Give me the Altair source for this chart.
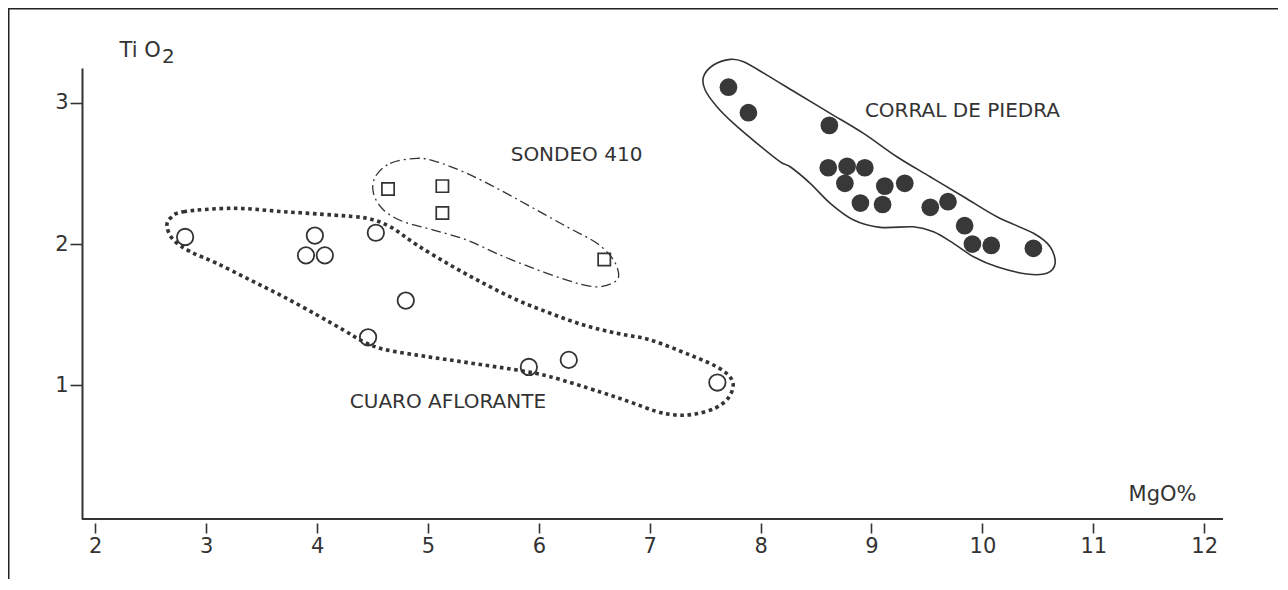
import altair as alt
import pandas as pd

FONT = "DejaVu Sans"
INK = "#333333"

# ---- axes ----
X_DOMAIN = [1.88, 12.17]
Y_DOMAIN = [0.054, 3.246]
X_TICKS = list(range(2, 13))
Y_TICKS = [1, 2, 3]

# ---- sample points (MgO %, TiO2) ----
cuaro_mgo = [2.81, 3.98, 3.90, 4.07, 4.53, 4.80, 4.46, 5.91, 6.27, 7.61]
cuaro_tio2 = [2.05, 2.06, 1.92, 1.92, 2.08, 1.60, 1.34, 1.13, 1.18, 1.02]

sondeo_mgo = [4.64, 5.13, 5.13, 6.59]
sondeo_tio2 = [2.39, 2.41, 2.22, 1.89]

corral_mgo = [7.71, 7.89, 8.62, 8.61, 8.78, 8.94, 8.76, 9.12, 9.30, 8.90,
              9.10, 9.53, 9.69, 9.84, 9.91, 10.08, 10.46]
corral_tio2 = [3.11, 2.93, 2.84, 2.54, 2.55, 2.54, 2.43, 2.41, 2.43, 2.29,
               2.28, 2.26, 2.30, 2.13, 2.00, 1.99, 1.97]

# ---- group outlines (closed curves) ----
corral_out_mgo = [7.575, 7.726, 7.846, 8.057, 8.327, 8.628, 8.928, 9.229, 9.529, 9.83,
                  10.131, 10.461, 10.611, 10.656, 10.582, 10.401, 10.131, 9.92, 9.739,
                  9.559, 9.379, 9.078, 8.838, 8.628, 8.447, 8.267, 8.177, 7.967, 7.756,
                  7.606, 7.5, 7.485]
corral_out_tio2 = [3.267, 3.307, 3.29, 3.196, 3.067, 2.925, 2.783, 2.618, 2.476, 2.335,
                   2.193, 2.076, 1.981, 1.863, 1.793, 1.788, 1.839, 1.91, 2.005,
                   2.087, 2.122, 2.118, 2.17, 2.288, 2.43, 2.547, 2.582, 2.713, 2.854,
                   2.972, 3.09, 3.184]

sondeo_out_mgo = [4.525, 4.66, 4.901, 5.081, 5.352, 5.652, 5.952, 6.253, 6.524, 6.674,
                  6.719, 6.644, 6.493, 6.253, 5.952, 5.652, 5.352, 5.051, 4.78, 4.6, 4.509]
sondeo_out_tio2 = [2.476, 2.571, 2.607, 2.582, 2.5, 2.382, 2.253, 2.122, 2.005, 1.887,
                   1.769, 1.717, 1.698, 1.745, 1.828, 1.922, 2.028, 2.099, 2.158, 2.241, 2.359]

cuaro_out_mgo = [2.676, 2.796, 3.247, 3.698, 4.149, 4.45, 4.66, 4.901, 5.201, 5.501,
                 5.803, 6.103, 6.403, 6.704, 7.005, 7.365, 7.591, 7.708, 7.753, 7.708,
                 7.591, 7.41, 7.23, 7.05, 6.824, 6.554, 6.103, 5.803, 5.501, 5.201,
                 4.901, 4.6, 4.419, 4.239, 3.999, 3.698, 3.398, 3.097, 2.857, 2.706, 2.647]
cuaro_out_tio2 = [2.182, 2.229, 2.253, 2.229, 2.205, 2.182, 2.122, 1.993, 1.851, 1.722,
                  1.604, 1.51, 1.427, 1.368, 1.321, 1.214, 1.137, 1.073, 1.002, 0.91,
                  0.839, 0.797, 0.79, 0.818, 0.882, 0.953, 1.061, 1.108, 1.144, 1.179,
                  1.214, 1.255, 1.309, 1.391, 1.498, 1.627, 1.745, 1.863, 1.946, 2.028, 2.122]

# ---- group labels ----
label_text = ["CORRAL DE PIEDRA", "SONDEO 410", "CUARO AFLORANTE"]
label_mgo = [9.82, 6.34, 5.18]
label_tio2 = [2.94, 2.63, 0.884]

W, H = 1141, 451
PAD = {"left": 74, "top": 60, "right": 55, "bottom": 60}

xs = alt.Scale(domain=X_DOMAIN, nice=False, zero=False)
ys = alt.Scale(domain=Y_DOMAIN, nice=False, zero=False)

x_axis = alt.Axis(values=X_TICKS, domain=False, offset=4, tickSize=10, tickWidth=1.6,
                  tickColor=INK, labelFont=FONT, labelFontSize=21, labelColor=INK,
                  labelPadding=2, grid=False, title="MgO%", titleFont=FONT,
                  titleFontSize=21, titleFontWeight="normal", titleColor=INK,
                  titleX=1080, titleY=-23, titleAlign="center", titleBaseline="alphabetic")
y_axis = alt.Axis(values=Y_TICKS, domain=True, domainColor=INK, domainWidth=2,
                  tickSize=12, tickWidth=1.6, tickColor=INK, labelFont=FONT,
                  labelFontSize=21, labelColor=INK, labelPadding=2, grid=False,
                  title="Ti O", titleFont=FONT, titleFontSize=21, titleFontWeight="normal",
                  titleColor=INK, titleAngle=0, titleX=37, titleY=-12, titleAlign="left",
                  titleBaseline="alphabetic")

X = alt.X("mgo:Q", scale=xs, axis=x_axis)
Y = alt.Y("tio2:Q", scale=ys, axis=y_axis)


def pts(mgo, tio2):
    return pd.DataFrame({"mgo": mgo, "tio2": tio2})


def outline(mgo, tio2):
    return pd.DataFrame({"mgo": mgo, "tio2": tio2, "i": list(range(len(mgo)))})


corral_pts = alt.Chart(pts(corral_mgo, corral_tio2)).mark_point(
    shape="circle", filled=True, size=314, color="#383838", opacity=1
).encode(x=X, y=Y)

cuaro_pts = alt.Chart(pts(cuaro_mgo, cuaro_tio2)).mark_point(
    shape="circle", filled=False, size=270, stroke=INK, strokeWidth=1.8, opacity=1
).encode(x=X, y=Y)

sondeo_pts = alt.Chart(pts(sondeo_mgo, sondeo_tio2)).mark_point(
    shape="square", filled=False, size=150, stroke=INK, strokeWidth=1.7, opacity=1
).encode(x=X, y=Y)


def outline_layer(mgo, tio2, **style):
    return alt.Chart(outline(mgo, tio2)).mark_line(
        interpolate="cardinal-closed", color=INK, **style
    ).encode(x=X, y=Y, order=alt.Order("i:Q"))


corral_line = outline_layer(corral_out_mgo, corral_out_tio2, strokeWidth=1.6)
sondeo_line = outline_layer(sondeo_out_mgo, sondeo_out_tio2, strokeWidth=1.3,
                            strokeDash=[10, 4, 2, 4])
cuaro_line = outline_layer(cuaro_out_mgo, cuaro_out_tio2, strokeWidth=3.6,
                           strokeDash=[3.6, 3.6], strokeCap="butt")

labels = alt.Chart(pd.DataFrame({"t": label_text, "mgo": label_mgo, "tio2": label_tio2})).mark_text(
    font=FONT, fontSize=20, color=INK, align="center", baseline="middle"
).encode(x=X, y=Y, text="t:N")

subscript = alt.Chart(pd.DataFrame({"t": ["2"]})).mark_text(
    font=FONT, fontSize=20, color=INK, align="left", baseline="alphabetic"
).encode(x=alt.value(80), y=alt.value(-5), text="t:N")

x_domain_line = alt.Chart(pd.DataFrame({"a": [0]})).mark_rule(color=INK, strokeWidth=2).encode(
    x=alt.value(0), x2=alt.value(W), y=alt.value(H))

frame_top = alt.Chart(pd.DataFrame({"a": [0]})).mark_rule(color="#222222", strokeWidth=1.5).encode(
    x=alt.value(-PAD["left"]), x2=alt.value(W + PAD["right"]), y=alt.value(-PAD["top"] + 0.75))
frame_left = alt.Chart(pd.DataFrame({"a": [0]})).mark_rule(color="#222222", strokeWidth=1.5).encode(
    x=alt.value(-PAD["left"] + 0.75), y=alt.value(-PAD["top"]), y2=alt.value(H + PAD["bottom"]))

chart = alt.layer(
    corral_pts, frame_top, frame_left, x_domain_line, cuaro_line, sondeo_line, corral_line,
    cuaro_pts, sondeo_pts, labels, subscript
).properties(
    width=W, height=H,
    autosize=alt.AutoSizeParams(type="none"),
    padding=PAD,
    background="white",
).configure_view(stroke=None)

chart.save("out.html", embed_options={"renderer": "svg", "actions": False})
